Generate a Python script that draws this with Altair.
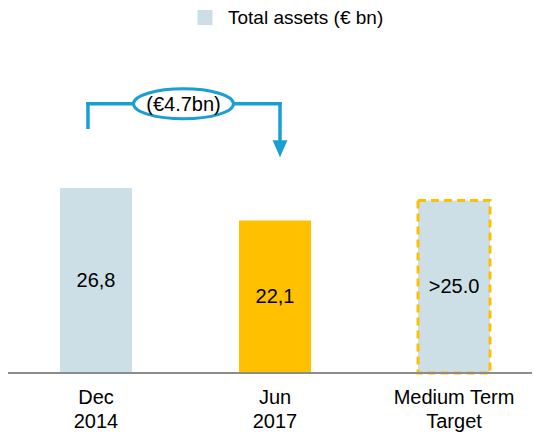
import altair as alt
import pandas as pd

# ---- data ----
categories = ["Dec\n2014", "Jun\n2017", "Medium Term\nTarget"]
values = [26.8, 22.1, 25.0]
value_labels = ["26,8", "22,1", ">25.0"]
kinds = ["actual", "actual", "target"]
bar_fills = ["#cddfe6", "#ffc000", "#cddfe6"]
legend_label = ["Total assets (€ bn)"]
change_label = ["(€4.7bn)"]
bracket_level = [39.0]
bracket_left_bottom = [35.6]
arrow_shaft_end = [33.7]
arrow_head_mid = [32.5]

LIGHT = "#cddfe6"
GOLD = "#ffc000"
BLUE = "#1a9fd2"
FONT = "Liberation Sans"

bars = pd.DataFrame({"cat": categories, "value": values, "label": value_labels,
                     "kind": kinds, "fill": bar_fills})

yscale = alt.Scale(domain=[0, 52.88], nice=False, zero=True)
xscale = alt.Scale(domain=categories, range=[52, 482], paddingInner=0.598, paddingOuter=0)
xaxis = alt.Axis(title=None, domain=False, ticks=False, labelAngle=0, labelFontSize=20,
                 labelFont=FONT, labelColor="#000", labelPadding=14, labelLineHeight=24,
                 labelExpr="split(datum.label, '\\n')", labelOverlap=False)
X = alt.X("cat:N", scale=xscale, axis=xaxis)

base = alt.Chart(bars)

actual = base.transform_filter("datum.kind == 'actual'").mark_bar().encode(
    x=X,
    y=alt.Y("value:Q", scale=yscale, axis=None),
    color=alt.Color("fill:N", scale=None),
)
target = base.transform_filter("datum.kind == 'target'").mark_bar(
    fill=LIGHT, stroke=GOLD, strokeWidth=3, strokeDash=[8, 5]
).encode(
    x=X,
    y=alt.Y("value:Q", scale=yscale, axis=None),
)
bar_text = base.transform_calculate(mid="datum.value / 2").mark_text(
    fontSize=20, font=FONT, color="#000", baseline="middle", align="center"
).encode(
    x=X,
    y=alt.Y("mid:Q", scale=yscale, axis=None),
    text="label:N",
)

baseline = alt.Chart(pd.DataFrame({"v": [0]})).mark_rule(color="#8c8c8c", strokeWidth=2).encode(
    y=alt.Y("v:Q", scale=yscale, axis=None),
    x=alt.value(0),
    x2=alt.value("width"),
)

left_v = alt.Chart(pd.DataFrame({"cat": [categories[0]], "y": bracket_left_bottom, "y2": bracket_level})).mark_rule(
    color=BLUE, strokeWidth=3.5, strokeCap="square", xOffset=-8
).encode(x=X, y=alt.Y("y:Q", scale=yscale, axis=None), y2="y2:Q")

horiz = alt.Chart(pd.DataFrame({"cat": [categories[0]], "cat2": [categories[1]], "y": bracket_level})).mark_rule(
    color=BLUE, strokeWidth=3.5, strokeCap="square", xOffset=-8, x2Offset=5
).encode(x=X, x2="cat2:N", y=alt.Y("y:Q", scale=yscale, axis=None))

right_v = alt.Chart(pd.DataFrame({"cat": [categories[1]], "y": bracket_level, "y2": arrow_shaft_end})).mark_rule(
    color=BLUE, strokeWidth=3.5, strokeCap="square", xOffset=5
).encode(x=X, y=alt.Y("y:Q", scale=yscale, axis=None), y2="y2:Q")

arrow = alt.Chart(pd.DataFrame({"cat": [categories[1]], "y": arrow_head_mid})).mark_point(
    shape="M-0.88,-1 L0.88,-1 L0,1 Z", filled=True, fill=BLUE, stroke=None, opacity=1,
    size=289, xOffset=5
).encode(x=X, y=alt.Y("y:Q", scale=yscale, axis=None))

ellipse = alt.Chart(pd.DataFrame({"cat": [categories[0]], "y": bracket_level})).mark_point(
    shape="M-1,0 A1,0.3 0 1,0 1,0 A1,0.3 0 1,0 -1,0", filled=True, fill="white",
    stroke=BLUE, strokeWidth=3, opacity=1, fillOpacity=1, size=10000, xOffset=87.5
).encode(x=X, y=alt.Y("y:Q", scale=yscale, axis=None))

change_text = alt.Chart(pd.DataFrame({"cat": [categories[0]], "y": bracket_level, "t": change_label})).mark_text(
    fontSize=20, font=FONT, color="#000", baseline="middle", align="center", xOffset=87.5, yOffset=1
).encode(x=X, y=alt.Y("y:Q", scale=yscale, axis=None), text="t:N")

leg_df = pd.DataFrame({"t": legend_label})
leg_square = alt.Chart(leg_df).mark_square(size=225, color=LIGHT, opacity=1).encode(
    x=alt.value(197), y=alt.value(9.5)
)
leg_text = alt.Chart(leg_df).mark_text(fontSize=19, font=FONT, color="#000", align="left", baseline="middle").encode(
    x=alt.value(220), y=alt.value(9.5), text="t:N"
)

chart = alt.layer(
    actual, target, baseline, bar_text, left_v, horiz, right_v, arrow, ellipse, change_text,
    leg_square, leg_text
).properties(
    width=524, height=365,
    autosize=alt.AutoSizeParams(type="none"),
    padding={"left": 0, "top": 0, "right": 0, "bottom": 63},
).configure_view(stroke=None)

chart.save("out.html", embed_options={"renderer": "svg", "actions": False})
